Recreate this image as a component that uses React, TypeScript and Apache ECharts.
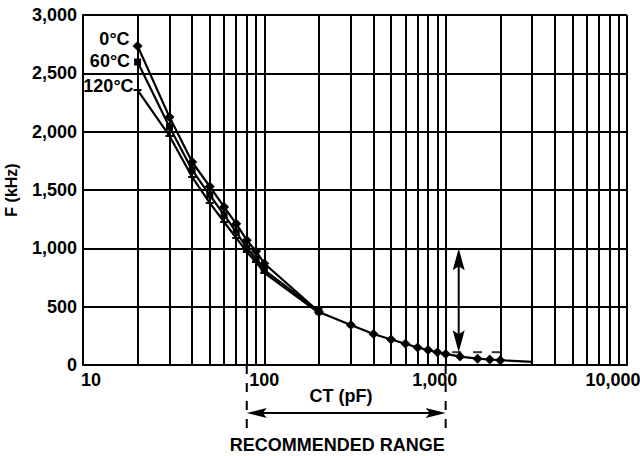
import React, { useEffect, useRef } from 'react';
import * as echarts from 'echarts';

// ---- data ----
const ctLow = [20, 30, 40, 50, 60, 70, 80, 90, 100, 200];
const f0Low = [2734, 2125, 1740, 1530, 1355, 1210, 1070, 975, 870, 455];
const f60Low = [2597, 2040, 1671, 1457, 1286, 1140, 1003, 909, 814, 460];
const f120Low = [2357, 1963, 1611, 1389, 1226, 1089, 969, 883, 789, 446];
const ctHigh = [300, 400, 500, 600, 700, 800, 900, 1000, 1200, 1500, 1750, 2000, 3000];
const f0High = [343, 266, 218, 182, 150, 128, 110, 95, 72, 54, 47, 41, 26];
const ct120Extra = [1150, 1500, 1900];
const f120Extra = [110, 110, 110];
const seriesNames = ['0°C', '60°C', '120°C'];
const xMajorTicks = [10, 100, 1000, 10000];
const xMinorGrid = [20, 30, 40, 50, 60, 70, 80, 90, 200, 300, 400, 500, 600, 700, 800, 900,
  2000, 3000, 4000, 5000, 6000, 7000, 8000, 9000];
const rangeCT = [80, 1000];
const arrowCT = 1180;
const arrowF = [1000, 110];
const rangeText = 'RECOMMENDED RANGE';
const xName = 'CT (pF)';
const yName = 'F (kHz)';

const FONT = '"Liberation Sans", Arial, Helvetica, sans-serif';
const BLACK = '#000';
const TICK_FS = 18;

export default function App() {
  const ref = useRef<HTMLDivElement>(null);
  useEffect(() => {
    const chart = echarts.init(ref.current as HTMLDivElement, null, { renderer: 'svg' });
    const lbl = (text: string, offY: number, dist: number) => ({
      show: true, formatter: text, position: 'left', distance: dist, offset: [0, offY],
      color: BLACK, fontWeight: 'bold', fontSize: 18, fontFamily: FONT,
    });
    const allCt0 = [...ctLow, ...ctHigh];
    const allF0 = [...f0Low, ...f0High];
    const d0 = allCt0.map((x, i) => {
      const item: any = { value: [x, allF0[i]] };
      if (i === 0) item.label = lbl(seriesNames[0], -7, 3);
      if (i === allCt0.length - 1) item.symbol = 'none';
      return item;
    });
    const d60 = ctLow.map((x, i) => {
      const item: any = { value: [x, f60Low[i]] };
      if (i === 0) item.label = lbl(seriesNames[1], -1, 4);
      return item;
    });
    const d120 = ctLow.map((x, i) => {
      const item: any = { value: [x, f120Low[i]] };
      if (i === 0) item.label = lbl(seriesNames[2], -4, 0);
      return item;
    });
    const lineBase = {
      type: 'line', lineStyle: { color: BLACK, width: 2.2 }, itemStyle: { color: BLACK },
      showSymbol: true, silent: true,
    };
    const fmt = (v: number) => v.toLocaleString('en-US');
    const richBase = { fontWeight: 'bold', fontSize: TICK_FS, fontFamily: FONT, color: BLACK };
    const option: any = {
      animation: false,
      backgroundColor: '#fff',
      grid: { left: 83, right: 13, top: 15, bottom: 91, containLabel: false, outerBoundsMode: 'none' },
      xAxis: {
        type: 'log', logBase: 10, min: xMajorTicks[0], max: xMajorTicks[xMajorTicks.length - 1],
        name: xName, nameLocation: 'middle', nameGap: 22, nameMoveOverlap: false,
        nameTextStyle: { color: BLACK, fontWeight: 'bold', fontSize: 18, fontFamily: FONT, padding: [0, 28, 0, 0] },
        axisLine: { show: true, lineStyle: { color: BLACK, width: 2 } },
        axisTick: { show: false },
        splitLine: { show: true, lineStyle: { color: BLACK, width: 2 } },
        axisLabel: {
          margin: 6, color: BLACK, fontWeight: 'bold', fontSize: TICK_FS, fontFamily: FONT,
          formatter: (v: number) => {
            if (v === 10) return '{l|' + fmt(v) + '}';
            if (v === 1000) return '{k|' + fmt(v) + '}';
            if (v === 10000) return '{m|' + fmt(v) + '}';
            return '{c|' + fmt(v) + '}';
          },
          rich: {
            l: { ...richBase, padding: [0, 0, 0, 16] },
            c: { ...richBase },
            k: { ...richBase, padding: [0, 22, 0, 0] },
            m: { ...richBase, padding: [0, 28, 0, 0] },
          },
        },
      },
      yAxis: {
        type: 'value', min: 0, max: 3000, interval: 500,
        name: yName, nameLocation: 'middle', nameGap: 64, nameRotate: 90, nameMoveOverlap: false,
        nameTextStyle: { color: BLACK, fontWeight: 'bold', fontSize: 16, fontFamily: FONT },
        axisLine: { show: true, lineStyle: { color: BLACK, width: 2 } },
        axisTick: { show: false },
        splitLine: { show: true, lineStyle: { color: BLACK, width: 2 } },
        axisLabel: { margin: 6, color: BLACK, fontWeight: 'bold', fontSize: TICK_FS, fontFamily: FONT, formatter: fmt },
      },
      series: [
        {
          type: 'line', data: [], silent: true, z: 1,
          markLine: {
            silent: true, symbol: 'none', label: { show: false }, animation: false,
            lineStyle: { color: BLACK, width: 2, type: 'solid' },
            emphasis: { disabled: true },
            data: xMinorGrid.map((v) => ({ xAxis: v })),
          },
        },
        { ...lineBase, name: seriesNames[2], data: d120, symbol: 'rect', symbolSize: [8, 2], z: 3 },
        { ...lineBase, name: seriesNames[1], data: d60, symbol: 'rect', symbolSize: 7, z: 4 },
        { ...lineBase, name: seriesNames[0], data: d0, symbol: 'diamond', symbolSize: [10, 10], z: 5 },
        {
          type: 'scatter', name: seriesNames[2] + ' extra', silent: true, z: 5,
          data: ct120Extra.map((x, i) => [x, f120Extra[i]]),
          symbol: 'rect', symbolSize: [9, 2], itemStyle: { color: BLACK },
        },
      ],
    };
    chart.setOption(option);

    const px = (x: number, y: number) => chart.convertToPixel({ gridIndex: 0 }, [x, y]) as number[];
    const [xa, y0] = px(rangeCT[0], 0);
    const [xb] = px(rangeCT[1], 0);
    const yArrow = y0 + 48;
    const yEnd = y0 + 68;
    const [xv, yTop] = px(arrowCT, arrowF[0]);
    const [, yBot] = px(arrowCT, arrowF[1]);
    const headL = 20, headW = 5, notch = 4;
    const stroke = { stroke: BLACK, lineWidth: 2 };
    const dashed = { stroke: BLACK, lineWidth: 2, lineDash: [9, 9] };
    const graphic: any[] = [
      { type: 'line', shape: { x1: xa, y1: y0, x2: xa, y2: yEnd }, style: dashed, silent: true },
      { type: 'line', shape: { x1: xb, y1: y0, x2: xb, y2: yEnd }, style: dashed, silent: true },
      { type: 'line', shape: { x1: xa + 10, y1: yArrow, x2: xb - 10, y2: yArrow }, style: stroke, silent: true },
      { type: 'polygon', shape: { points: [[xa, yArrow], [xa + headL, yArrow - headW], [xa + headL - notch, yArrow], [xa + headL, yArrow + headW]] }, style: { fill: BLACK }, silent: true },
      { type: 'polygon', shape: { points: [[xb, yArrow], [xb - headL, yArrow - headW], [xb - headL + notch, yArrow], [xb - headL, yArrow + headW]] }, style: { fill: BLACK }, silent: true },
      { type: 'line', shape: { x1: xv, y1: yTop + 10, x2: xv, y2: yBot - 10 }, style: stroke, silent: true },
      { type: 'polygon', shape: { points: [[xv, yTop], [xv - 6, yTop + 22], [xv, yTop + 18], [xv + 6, yTop + 22]] }, style: { fill: BLACK }, silent: true },
      { type: 'polygon', shape: { points: [[xv, yBot], [xv - 6, yBot - 22], [xv, yBot - 18], [xv + 6, yBot - 22]] }, style: { fill: BLACK }, silent: true },
      {
        type: 'text', x: (xa + xb) / 2 - 9, y: yEnd + 12, silent: true,
        style: { text: rangeText, fill: BLACK, font: 'bold 18px ' + FONT, textAlign: 'center', textVerticalAlign: 'middle' },
      },
    ];
    chart.setOption({ graphic });
    return () => chart.dispose();
  }, []);
  return <div ref={ref} style={{ position: 'fixed', left: 0, top: 0, width: 640, height: 456, background: '#fff' }} />;
}
